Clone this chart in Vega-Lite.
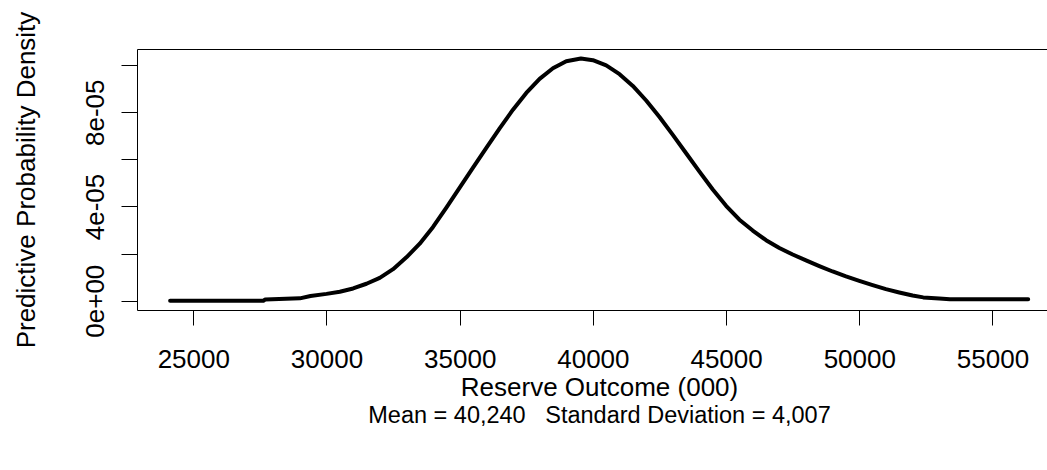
{
  "$schema": "https://vega.github.io/schema/vega-lite/v6.json",
  "width": 910,
  "height": 261,
  "autosize": {"type": "none"},
  "padding": {"left": 137, "top": 49, "right": 0, "bottom": 160},
  "background": "white",
  "config": {"view": {"stroke": null}, "font": "Liberation Sans"},
  "title": {
    "text": "Mean = 40,240\u00a0\u00a0 Standard Deviation = 4,007",
    "orient": "bottom",
    "anchor": "middle",
    "frame": "group",
    "font": "Liberation Sans",
    "fontSize": 23.5,
    "fontWeight": "normal",
    "color": "black",
    "baseline": "alphabetic",
    "dx": 7.5,
    "offset": 23
  },
  "data": {
    "values": [
      {"outcome": 24130, "density": 0.0},
      {"outcome": 27630, "density": 0.0},
      {"outcome": 27700, "density": 0.0000005},
      {"outcome": 29000, "density": 0.0000010},
      {"outcome": 29400, "density": 0.0000020},
      {"outcome": 30000, "density": 0.0000029},
      {"outcome": 30500, "density": 0.0000038},
      {"outcome": 31000, "density": 0.0000052},
      {"outcome": 31500, "density": 0.0000072},
      {"outcome": 32000, "density": 0.0000097},
      {"outcome": 32500, "density": 0.0000134},
      {"outcome": 33000, "density": 0.0000184},
      {"outcome": 33500, "density": 0.0000242},
      {"outcome": 34000, "density": 0.0000313},
      {"outcome": 34500, "density": 0.0000395},
      {"outcome": 35000, "density": 0.0000480},
      {"outcome": 35500, "density": 0.0000565},
      {"outcome": 36000, "density": 0.0000649},
      {"outcome": 36500, "density": 0.0000732},
      {"outcome": 37000, "density": 0.0000811},
      {"outcome": 37500, "density": 0.0000882},
      {"outcome": 38000, "density": 0.0000942},
      {"outcome": 38500, "density": 0.0000987},
      {"outcome": 39000, "density": 0.0001017},
      {"outcome": 39550, "density": 0.0001028},
      {"outcome": 40000, "density": 0.0001021},
      {"outcome": 40500, "density": 0.0000999},
      {"outcome": 41000, "density": 0.0000962},
      {"outcome": 41500, "density": 0.0000912},
      {"outcome": 42000, "density": 0.0000850},
      {"outcome": 42500, "density": 0.0000780},
      {"outcome": 43000, "density": 0.0000704},
      {"outcome": 43500, "density": 0.0000626},
      {"outcome": 44000, "density": 0.0000548},
      {"outcome": 44500, "density": 0.0000472},
      {"outcome": 45000, "density": 0.0000403},
      {"outcome": 45500, "density": 0.0000344},
      {"outcome": 46000, "density": 0.0000298},
      {"outcome": 46500, "density": 0.0000257},
      {"outcome": 47000, "density": 0.0000224},
      {"outcome": 47500, "density": 0.0000196},
      {"outcome": 48000, "density": 0.0000171},
      {"outcome": 48500, "density": 0.0000147},
      {"outcome": 49000, "density": 0.0000124},
      {"outcome": 49500, "density": 0.0000103},
      {"outcome": 50000, "density": 0.0000084},
      {"outcome": 50500, "density": 0.0000066},
      {"outcome": 51000, "density": 0.0000049},
      {"outcome": 51500, "density": 0.0000035},
      {"outcome": 52000, "density": 0.0000022},
      {"outcome": 52400, "density": 0.0000014},
      {"outcome": 53000, "density": 0.0000009},
      {"outcome": 53400, "density": 0.0000006},
      {"outcome": 56340, "density": 0.0000006}
    ]
  },
  "layer": [
    {
      "mark": {"type": "line", "color": "black", "strokeWidth": 4, "strokeCap": "round", "strokeJoin": "round"},
      "encoding": {
        "x": {
          "field": "outcome",
          "type": "quantitative",
          "scale": {"domain": [22887, 57046], "nice": false, "zero": false},
          "axis": {
            "orient": "bottom",
            "values": [25000, 30000, 35000, 40000, 45000, 50000, 55000],
            "format": "d",
            "grid": false,
            "tickSize": 15,
            "tickColor": "black",
            "tickWidth": 1,
            "domainColor": "black",
            "domainWidth": 1,
            "labelFont": "Liberation Sans",
            "labelFontSize": 26,
            "labelColor": "black",
            "labelBaseline": "alphabetic",
            "labelPadding": 42,
            "labelFlush": false,
            "labelOverlap": false,
            "title": "Reserve Outcome (000)",
            "titleFont": "Liberation Sans",
            "titleFontSize": 26,
            "titleFontWeight": "normal",
            "titleColor": "black",
            "titleX": 462,
            "titleY": 85,
            "titleAlign": "center",
            "titleBaseline": "alphabetic"
          }
        },
        "y": {
          "field": "density",
          "type": "quantitative",
          "scale": {"domain": [-0.00000395, 0.00010687], "nice": false, "zero": false},
          "axis": {
            "orient": "left",
            "values": [0, 0.00002, 0.00004, 0.00006, 0.00008, 0.0001],
            "labelExpr": "abs(datum.value) < 1e-9 ? '0e+00' : abs(datum.value - 0.00004) < 1e-9 ? '4e-05' : abs(datum.value - 0.00008) < 1e-9 ? '8e-05' : ''",
            "grid": false,
            "tickSize": 16,
            "tickColor": "black",
            "tickWidth": 1,
            "domainColor": "black",
            "domainWidth": 1,
            "labelFont": "Liberation Sans",
            "labelFontSize": 26,
            "labelColor": "black",
            "labelAngle": -90,
            "labelAlign": "center",
            "labelBaseline": "alphabetic",
            "labelPadding": 18,
            "labelFlush": false,
            "labelOverlap": false,
            "title": "Predictive Probability Density",
            "titleFont": "Liberation Sans",
            "titleFontSize": 26,
            "titleFontWeight": "normal",
            "titleColor": "black",
            "titleAngle": -90,
            "titleX": -103,
            "titleY": 130.5,
            "titleAlign": "center",
            "titleBaseline": "alphabetic"
          }
        }
      }
    },
    {
      "mark": {"type": "line", "opacity": 0},
      "encoding": {
        "x": {
          "field": "outcome",
          "type": "quantitative",
          "scale": {"domain": [22887, 57046], "nice": false, "zero": false},
          "axis": {"orient": "top", "labels": false, "ticks": false, "grid": false, "domainColor": "black", "domainWidth": 1, "title": null}
        },
        "y": {
          "field": "density",
          "type": "quantitative",
          "scale": {"domain": [-0.00000395, 0.00010687], "nice": false, "zero": false},
          "axis": null
        }
      }
    }
  ],
  "resolve": {"axis": {"x": "independent", "y": "independent"}}
}
